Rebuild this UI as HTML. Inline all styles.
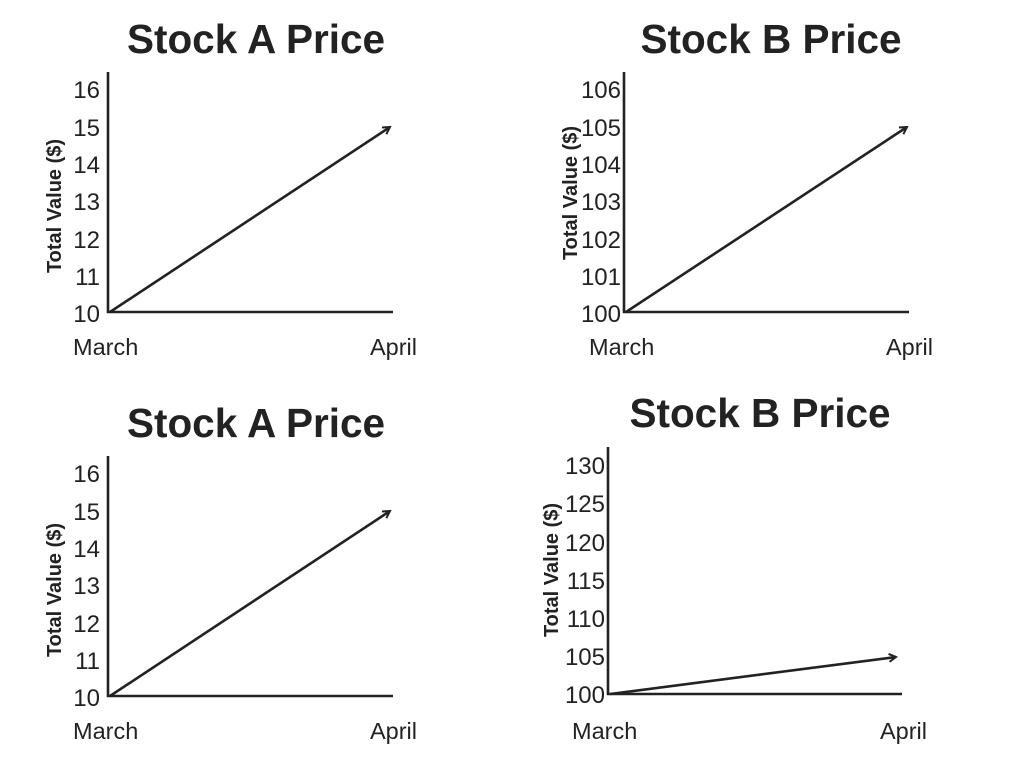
<!DOCTYPE html>
<html><head><style>
html,body{margin:0;padding:0;background:#fff;}
svg{display:block;}
text{font-family:"Liberation Sans","DejaVu Sans",sans-serif;fill:#222;}
.t{font-size:40.5px;font-weight:bold;text-anchor:middle;}
.k{font-size:24px;text-anchor:end;}
.x{font-size:23.5px;}
.y{font-size:20px;font-weight:bold;text-anchor:middle;}
line,path{stroke:#222;stroke-width:2.6;fill:none;}
</style></head><body>
<svg width="1024" height="768" viewBox="0 0 1024 768">
<defs><marker id="a" markerWidth="10" markerHeight="10" refX="8" refY="5" orient="auto" markerUnits="userSpaceOnUse"><path d="M1,1 L8,5 L1,9" style="stroke-width:2"/></marker></defs>

<!-- Panel 1 -->
<text class="t" x="256" y="53">Stock A Price</text>
<line x1="108" y1="72" x2="108" y2="313"/>
<line x1="107" y1="312" x2="393" y2="312"/>
<line x1="110" y1="312" x2="390" y2="127" marker-end="url(#a)"/>
<g class="k"><text x="100" y="98">16</text><text x="100" y="136">15</text><text x="100" y="173">14</text><text x="100" y="210">13</text><text x="100" y="248">12</text><text x="100" y="285">11</text><text x="100" y="322">10</text></g>
<text class="y" transform="translate(61,206) rotate(-90)">Total Value ($)</text>
<text class="x" x="73" y="355">March</text><text class="x" x="417" y="355" text-anchor="end">April</text>

<!-- Panel 2 -->
<text class="t" x="771" y="53">Stock B Price</text>
<line x1="624" y1="72" x2="624" y2="313"/>
<line x1="623" y1="312" x2="909" y2="312"/>
<line x1="626" y1="312" x2="907" y2="127" marker-end="url(#a)"/>
<g class="k"><text x="621" y="98">106</text><text x="621" y="136">105</text><text x="621" y="173">104</text><text x="621" y="210">103</text><text x="621" y="248">102</text><text x="621" y="285">101</text><text x="621" y="322">100</text></g>
<text class="y" transform="translate(577,193) rotate(-90)">Total Value ($)</text>
<text class="x" x="589" y="355">March</text><text class="x" x="933" y="355" text-anchor="end">April</text>

<!-- Panel 3 -->
<text class="t" x="256" y="437">Stock A Price</text>
<line x1="108" y1="456" x2="108" y2="697"/>
<line x1="107" y1="696" x2="393" y2="696"/>
<line x1="110" y1="696" x2="390" y2="511" marker-end="url(#a)"/>
<g class="k"><text x="100" y="482">16</text><text x="100" y="520">15</text><text x="100" y="557">14</text><text x="100" y="594">13</text><text x="100" y="632">12</text><text x="100" y="669">11</text><text x="100" y="706">10</text></g>
<text class="y" transform="translate(61,590) rotate(-90)">Total Value ($)</text>
<text class="x" x="73" y="739">March</text><text class="x" x="417" y="739" text-anchor="end">April</text>

<!-- Panel 4 -->
<text class="t" x="760" y="427">Stock B Price</text>
<line x1="608" y1="447" x2="608" y2="695"/>
<line x1="607" y1="694" x2="902" y2="694"/>
<line x1="610" y1="694" x2="896" y2="657" marker-end="url(#a)"/>
<g class="k"><text x="605" y="474">130</text><text x="605" y="512">125</text><text x="605" y="551">120</text><text x="605" y="589">115</text><text x="605" y="627">110</text><text x="605" y="665">105</text><text x="605" y="703">100</text></g>
<text class="y" transform="translate(558,570) rotate(-90)">Total Value ($)</text>
<text class="x" x="572" y="739">March</text><text class="x" x="927" y="739" text-anchor="end">April</text>
</svg>
</body></html>
